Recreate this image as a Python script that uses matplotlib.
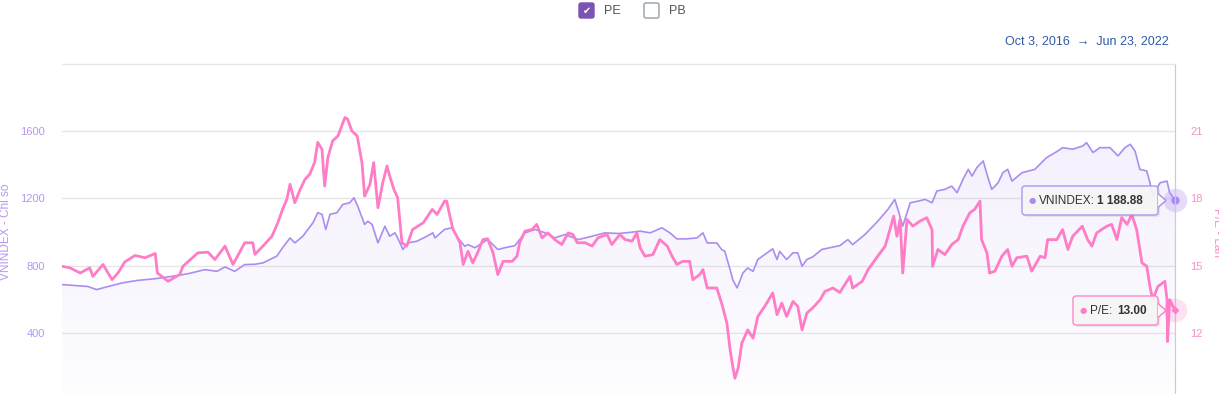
import numpy as np
import pandas as pd
import matplotlib
matplotlib.use("Agg")
import matplotlib.pyplot as plt
import matplotlib.dates as mdates
from matplotlib.patches import FancyBboxPatch, Polygon
from matplotlib.transforms import IdentityTransform

# VNINDEX (left axis)
vn_dates = ["2016-10-03","2016-11-20","2016-12-07","2016-12-22","2017-01-24","2017-02-22","2017-03-27","2017-04-28",
    "2017-05-28","2017-06-28","2017-07-21","2017-08-05","2017-08-23","2017-09-11","2017-09-30","2017-10-15",
    "2017-11-10","2017-11-21","2017-12-05","2017-12-14","2017-12-29","2018-01-17","2018-01-26","2018-02-03",
    "2018-02-10","2018-02-18","2018-03-03","2018-03-14","2018-03-27","2018-04-04","2018-04-11","2018-04-24",
    "2018-04-30","2018-05-08","2018-05-19","2018-06-01","2018-06-10","2018-06-20","2018-06-25","2018-07-05",
    "2018-07-14","2018-07-31","2018-08-19","2018-08-30","2018-09-03","2018-09-21","2018-10-05","2018-10-16",
    "2018-10-29","2018-11-04","2018-11-17","2018-11-26","2018-12-11","2018-12-30","2019-01-12","2019-01-31",
    "2019-02-09","2019-02-19","2019-03-10","2019-03-29","2019-04-16","2019-05-05","2019-05-30","2019-06-25",
    "2019-07-19","2019-08-13","2019-09-08","2019-09-23","2019-10-12","2019-11-03","2019-11-18","2019-12-01",
    "2019-12-20","2020-01-08","2020-01-19","2020-01-27","2020-02-14","2020-02-23","2020-02-29","2020-03-10",
    "2020-03-15","2020-03-23","2020-03-28","2020-04-03","2020-04-12","2020-04-22","2020-05-01","2020-05-14",
    "2020-05-29","2020-06-06","2020-06-11","2020-06-24","2020-07-06","2020-07-15","2020-07-23","2020-08-01",
    "2020-08-12","2020-08-29","2020-09-13","2020-10-02","2020-10-17","2020-10-26","2020-11-18","2020-12-12",
    "2020-12-31","2021-01-13","2021-01-19","2021-01-28","2021-02-11","2021-02-26","2021-03-11","2021-03-24",
    "2021-04-02","2021-04-17","2021-04-30","2021-05-10","2021-05-21","2021-05-31","2021-06-07","2021-06-16",
    "2021-06-28","2021-07-07","2021-07-14","2021-07-26","2021-08-04","2021-08-13","2021-08-21","2021-09-09",
    "2021-10-03","2021-10-25","2021-11-15","2021-11-24","2021-12-13","2022-01-01","2022-01-08","2022-01-20",
    "2022-02-02","2022-02-21","2022-03-08","2022-03-21","2022-03-31","2022-04-09","2022-04-18","2022-05-01",
    "2022-05-07","2022-05-12","2022-05-26","2022-06-08","2022-06-13","2022-06-23"]
vn_values = [687,676,657,670,697,712,722,736,
    752,776,766,792,766,806,808,816,
    856,906,965,935,975,1055,1115,1105,
    1015,1105,1115,1164,1174,1204,1154,1045,
    1064,1045,935,1035,975,995,965,896,
    935,945,975,995,965,1015,1025,965,
    915,925,906,925,955,896,906,919,
    955,995,1015,995,965,985,955,975,
    995,991,999,1005,995,1025,995,959,
    959,965,995,935,935,896,885,776,
    716,667,706,756,786,766,836,866,
    900,836,885,836,876,876,796,836,
    852,896,906,919,955,925,985,1064,
    1134,1194,1134,1035,1174,1184,1194,1174,
    1244,1254,1273,1234,1313,1373,1333,1383,
    1423,1323,1254,1293,1353,1373,1303,1353,
    1373,1443,1482,1502,1493,1512,1532,1473,
    1502,1502,1453,1502,1522,1482,1373,1363,
    1293,1214,1293,1303,1234,1188.88]

# P/E (right axis)
pe_dates = ["2016-10-03","2016-10-18","2016-11-06","2016-11-24","2016-11-30","2016-12-19","2017-01-05","2017-01-16",
    "2017-01-29","2017-02-17","2017-03-08","2017-03-27","2017-03-31","2017-04-20","2017-05-12","2017-05-18",
    "2017-06-15","2017-07-04","2017-07-17","2017-08-05","2017-08-20","2017-09-11","2017-09-26","2017-09-30",
    "2017-10-15","2017-11-01","2017-11-12","2017-11-21","2017-11-29","2017-12-05","2017-12-14","2017-12-24",
    "2018-01-02","2018-01-11","2018-01-20","2018-01-26","2018-02-03","2018-02-08","2018-02-14","2018-02-23",
    "2018-03-05","2018-03-18","2018-03-23","2018-03-31","2018-04-10","2018-04-19","2018-04-24","2018-05-04",
    "2018-05-11","2018-05-19","2018-05-28","2018-06-05","2018-06-10","2018-06-18","2018-06-25","2018-07-03",
    "2018-07-12","2018-07-23","2018-08-12","2018-08-29","2018-09-07","2018-09-21","2018-09-25","2018-10-01",
    "2018-10-07","2018-10-14","2018-10-20","2018-10-26","2018-11-04","2018-11-13","2018-11-22","2018-12-02",
    "2018-12-11","2018-12-21","2018-12-30","2019-01-09","2019-01-26","2019-02-04","2019-02-09","2019-02-19",
    "2019-03-04","2019-03-13","2019-03-23","2019-04-03","2019-04-16","2019-04-29","2019-05-11","2019-05-20",
    "2019-05-28","2019-06-12","2019-06-25","2019-07-06","2019-07-23","2019-08-01","2019-08-16","2019-08-26",
    "2019-09-08","2019-09-17","2019-09-23","2019-10-02","2019-10-17","2019-10-30","2019-11-13","2019-11-22",
    "2019-12-01","2019-12-12","2019-12-25","2019-12-31","2020-01-13","2020-01-19","2020-01-27","2020-02-14",
    "2020-02-23","2020-03-04","2020-03-10","2020-03-15","2020-03-19","2020-03-25","2020-04-01","2020-04-12",
    "2020-04-22","2020-05-01","2020-05-14","2020-05-29","2020-06-06","2020-06-15","2020-06-24","2020-07-06",
    "2020-07-15","2020-07-23","2020-08-01","2020-08-12","2020-08-26","2020-09-04","2020-09-19","2020-10-02",
    "2020-10-21","2020-10-26","2020-11-13","2020-11-24","2020-12-12","2020-12-26","2021-01-04","2021-01-11",
    "2021-01-17","2021-01-23","2021-01-28","2021-02-05","2021-02-16","2021-03-01","2021-03-14","2021-03-24",
    "2021-03-25","2021-04-04","2021-04-17","2021-04-30","2021-05-12","2021-05-21","2021-06-03","2021-06-12",
    "2021-06-22","2021-06-25","2021-07-05","2021-07-10","2021-07-20","2021-08-02","2021-08-13","2021-08-21",
    "2021-08-30","2021-09-18","2021-09-27","2021-10-13","2021-10-22","2021-10-27","2021-11-13","2021-11-24",
    "2021-12-04","2021-12-13","2021-12-31","2022-01-10","2022-01-18","2022-01-27","2022-02-15","2022-02-24",
    "2022-03-06","2022-03-15","2022-03-25","2022-04-03","2022-04-12","2022-04-22","2022-05-01","2022-05-07",
    "2022-05-12","2022-05-22","2022-06-04","2022-06-08","2022-06-09","2022-06-13","2022-06-23"]
pe_values = [14.97,14.90,14.67,14.90,14.52,15.05,14.37,14.67,
    15.17,15.45,15.35,15.54,14.67,14.30,14.60,14.97,
    15.57,15.60,15.27,15.87,15.05,16.02,16.02,15.50,
    15.87,16.31,16.91,17.51,17.96,18.63,17.81,18.40,
    18.85,19.08,19.60,20.50,20.19,18.55,19.82,20.57,
    20.79,21.61,21.54,21.01,20.79,19.60,18.10,18.63,
    19.60,17.58,18.70,19.45,19.00,18.40,18.03,16.02,
    15.87,16.61,16.91,17.51,17.28,17.88,17.88,17.21,
    16.61,16.31,16.02,15.05,15.64,15.12,15.57,16.16,
    16.20,15.57,14.60,15.19,15.19,15.42,16.02,16.54,
    16.61,16.84,16.24,16.46,16.16,15.94,16.46,16.39,
    16.02,16.02,15.87,16.24,16.39,15.94,16.39,16.16,
    16.09,16.46,15.80,15.42,15.49,16.16,15.87,15.42,
    15.05,15.19,15.19,14.37,14.60,14.82,14.00,14.00,
    13.33,12.43,11.24,10.49,9.97,10.42,11.54,12.13,
    11.76,12.73,13.18,13.78,12.81,13.33,12.73,13.40,
    13.18,12.13,12.88,13.11,13.48,13.85,14.00,13.80,
    14.52,14.00,14.30,14.82,15.42,15.87,16.61,17.21,
    16.31,17.06,14.67,17.06,16.76,16.98,17.14,16.61,
    14.97,15.72,15.49,15.94,16.16,16.76,17.36,17.51,
    17.88,16.16,15.57,14.67,14.75,15.42,15.72,14.97,
    15.35,15.42,14.75,15.42,15.35,16.16,16.16,16.61,
    15.72,16.31,16.76,16.16,15.87,16.46,16.76,16.84,
    16.16,17.14,16.84,17.28,16.61,15.12,14.97,14.07,
    13.48,14.07,14.30,13.48,11.61,13.48,13.00]

left_ticks = [0, 400, 800, 1200, 1600]
right_ticks = [9, 12, 15, 18, 21]
start_date, end_date = "2016-10-03", "2022-06-23"

W, H = 1219, 394
VN_COLOR = "#ac8cf0"
PE_COLOR = "#ff7cc6"

plt.rcParams['font.family'] = ['Liberation Sans', 'DejaVu Sans']

fig = plt.figure(figsize=(W / 100, H / 100), dpi=100)
# plot area spans x 62..1175 px, y 64..400 px (bottom is cut off by the image)
ax = fig.add_axes([62 / W, 1 - 400 / H, (1175 - 62) / W, 336 / H])
ax2 = ax.twinx()

vn_x = pd.to_datetime(vn_dates)
pe_x = pd.to_datetime(pe_dates)
xmin = mdates.date2num(pd.Timestamp(start_date))
xmax = mdates.date2num(pd.Timestamp(end_date))

# gradient area under VNINDEX
area = ax.fill_between(vn_x, vn_values, 0, color="none", lw=0)
grad = np.zeros((100, 1, 4))
grad[:, 0, :3] = matplotlib.colors.to_rgb(VN_COLOR)
grad[:, 0, 3] = np.linspace(0.02, 0.13, 100)
im = ax.imshow(grad, extent=[xmin, xmax, 0, 1600], origin="lower", aspect="auto", zorder=1)
im.set_clip_path(area.get_paths()[0], transform=ax.transData)

ax.plot(vn_x, vn_values, color=VN_COLOR, lw=1.2, zorder=3)
ax2.plot(pe_x, pe_values, color=PE_COLOR, lw=2.0, zorder=3)

ax.set_xlim(xmin, xmax)
ax.set_ylim(0, 2000)
ax2.set_ylim(9, 24)
ax.set_yticks(left_ticks)
ax2.set_yticks(right_ticks)
ax.set_xticks([])

ax.grid(axis="y", color="#e6e6e6", lw=1)
ax.set_axisbelow(True)
ax.tick_params(axis="y", length=0, pad=12, labelsize=8, labelcolor="#b896f2")
ax2.tick_params(axis="y", length=0, pad=11, labelsize=8, labelcolor="#f88fc9")
for a in (ax, ax2):
    for s in ("left", "bottom"):
        a.spines[s].set_visible(False)
    a.spines["top"].set_color("#e6e6e6")
    a.spines["right"].set_color("#cccccc")
    a.patch.set_visible(False)

fig.text(6 / W, 1 - 232 / H, "VNINDEX - Chỉ số", rotation=90, ha="center", va="center",
         fontsize=8.5, color="#b896f2")
fig.text(1217 / W, 1 - 232 / H, "P/E - Lần", rotation=270, ha="center", va="center",
         fontsize=8.5, color="#f88fc9")

# last-point markers with halo
last = pd.Timestamp(end_date)
ax.plot([last], [vn_values[-1]], "o", ms=17, color=VN_COLOR, alpha=0.3, clip_on=False, zorder=6, mec="none")
ax.plot([last], [vn_values[-1]], "o", ms=6, color=VN_COLOR, clip_on=False, zorder=7, mec="none")
ax2.plot([last], [pe_values[-1]], "o", ms=17, color=PE_COLOR, alpha=0.22, clip_on=False, zorder=6, mec="none")
ax2.plot([last], [pe_values[-1]], "D", ms=4.5, color=PE_COLOR, clip_on=False, zorder=7, mec="none")

ident = IdentityTransform()


def tooltip(x0, x1, ytop, ybot, color, label, value, xlabel, xvalue):
    yc = (ytop + ybot) / 2
    shadow = FancyBboxPatch((x0 + 2, H - ybot - 2), x1 - x0, ybot - ytop,
                            boxstyle="round,pad=0,rounding_size=3", fc="#000000", ec="none",
                            alpha=0.07, transform=ident, zorder=8)
    box = FancyBboxPatch((x0, H - ybot), x1 - x0, ybot - ytop,
                         boxstyle="round,pad=0,rounding_size=3", fc="#f7f7f7", ec=color,
                         lw=1, alpha=0.92, transform=ident, zorder=9)
    tip = Polygon([(x1, H - yc + 7), (x1 + 8, H - yc), (x1, H - yc - 7)], closed=False,
                  fc="#f7f7f7", ec=color, lw=1, transform=ident, zorder=10)
    fig.patches.extend([shadow, box, tip])
    fig.text(xlabel - 7, H - yc, "●", transform=ident, color=color, fontsize=6,
             va="center", ha="center", zorder=11, family=["DejaVu Sans"])
    fig.text(xlabel, H - yc, label, transform=ident, color="#333333", fontsize=8.5,
             va="center", ha="left", zorder=11)
    fig.text(xvalue, H - yc, value, transform=ident, color="#333333", fontsize=8.5,
             fontweight="bold", va="center", ha="left", zorder=11)


tooltip(1022, 1158, 186, 215, VN_COLOR, "VNINDEX:", "1 188.88", 1039, 1097)
tooltip(1073, 1158, 296, 325, PE_COLOR, "P/E:", "13.00", 1090, 1117)

# checkbox legend at the top
cb1 = FancyBboxPatch((579, H - 18), 15, 15, boxstyle="round,pad=0,rounding_size=2",
                     fc="#7b54b1", ec="#7b54b1", transform=ident)
cb2 = FancyBboxPatch((644, H - 18), 15, 15, boxstyle="round,pad=0,rounding_size=2",
                     fc="white", ec="#a6adb5", lw=1.2, transform=ident)
fig.patches.extend([cb1, cb2])
fig.text(586.5, H - 10.5, "✔", transform=ident, color="white", fontsize=7, ha="center", va="center",
         family=["DejaVu Sans"])
fig.text(604, H - 10.5, "PE", transform=ident, color="#555555", fontsize=9, va="center")
fig.text(669, H - 10.5, "PB", transform=ident, color="#555555", fontsize=9, va="center")

fig.text(1169, H - 42, "Oct 3, 2016  →  Jun 23, 2022", transform=ident, color="#2d5aa6",
         fontsize=9, ha="right", va="center")

fig.savefig("out.png", dpi=100)
